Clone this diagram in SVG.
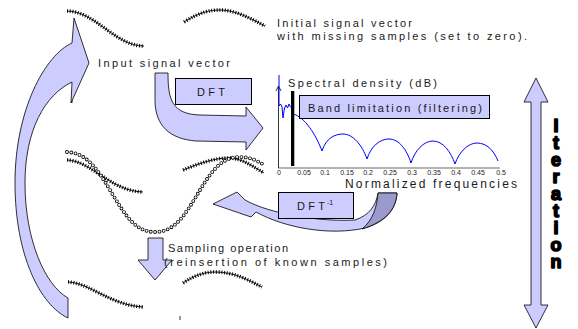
<svg xmlns="http://www.w3.org/2000/svg" width="578" height="329" viewBox="0 0 578 329">
  <defs>
    <style>
      .shape { fill: #ccccff; stroke: #000; stroke-width: 0.8; stroke-linejoin: miter; }
      .dark { fill: #9a9acc; stroke: #000; stroke-width: 0.8; }
      .box { fill: #ccccff; stroke: #000; stroke-width: 1; }
      .lbl { font-family: "Liberation Sans", Arial, sans-serif; font-size: 11px; fill: #1a1a1a; }
      .tick { font-family: "Liberation Sans", Arial, sans-serif; font-size: 7px; fill: #1a1a1a; text-anchor: middle; }
      .iter { font-family: "Liberation Sans", Arial, sans-serif; font-size: 18px; font-weight: 700; fill: #000; stroke: #000; stroke-width: 1.6; stroke-linejoin: round; text-anchor: middle; }
      .xline { fill: none; stroke: #000; stroke-width: 0.9; }
      .xmark { fill: none; stroke: #000; stroke-width: 3.6; stroke-dasharray: 1 1.7; }
      .ring { fill: none; stroke: #000; stroke-width: 3.8; stroke-linecap: round; stroke-dasharray: 0 4.3; }
      .hole { fill: none; stroke: #fff; stroke-width: 2.2; stroke-linecap: round; stroke-dasharray: 0 4.3; }
    </style>
    <path id="s1a" d="M67,11 C95,11 115,46 144,46"/>
    <path id="s1b" d="M184,22 C200,12 210,10 220,10 C235,10 250,18 265,26"/>
    <path id="s2a" d="M67,160 C92,161 110,191 143,192"/>
    <path id="s2b" d="M183,170 C200,163 215,158 228,158 C242,158 252,166 264,173"/>
    <path id="s3a" d="M68,282 C90,283 110,305 143,307"/>
    <path id="s3b" d="M183,283 C195,275 205,272 215,272 C235,272 248,280 262,287"/>
    <path id="est" d="M67,152 C85,153 95,165 110,190 C125,215 135,232 155,232 C175,232 185,215 200,190 C215,165 225,157 240,157 C250,157 258,161 264,165"/>
  </defs>

  <!-- signal with missing samples, top -->
  <g id="signal-initial">
    <use href="#s1a" class="xline"/><use href="#s1a" class="xmark"/>
    <use href="#s1b" class="xline"/><use href="#s1b" class="xmark"/>
  </g>

  <!-- band-limited estimate (circles) and known samples (crosses) -->
  <g id="signal-estimate">
    <use href="#s2a" class="xline"/><use href="#s2a" class="xmark"/>
    <use href="#s2b" class="xline"/><use href="#s2b" class="xmark"/>
    <use href="#est" class="ring"/><use href="#est" class="hole"/>
  </g>

  <!-- signal after reinsertion of samples, bottom -->
  <g id="signal-resampled">
    <use href="#s3a" class="xline"/><use href="#s3a" class="xmark"/>
    <use href="#s3b" class="xline"/><use href="#s3b" class="xmark"/>
    <line x1="72" y1="100" x2="72" y2="103" stroke="#000" stroke-width="0.8"/>
    <line x1="180" y1="316" x2="180" y2="320" stroke="#000" stroke-width="0.8"/>
  </g>

  <g id="connectors">
    <!-- feedback arrow from bottom back to input -->
    <path class="shape" d="M72,43 C45,55 15,110 15,183 C15,255 40,305 68,318 L68,298 C45,285 25,240 25,183 C25,130 45,95 72,82 L71,103 L89,63 L74,18 Z"/>
    <!-- DFT arrow -->
    <path class="shape" d="M155,73 L168,73 C168,100 172,114 200,115 L246,116 L246,107 L263,128 L246,150 L246,142 L196,141 C170,139 155,126 155,100 Z"/>
    <!-- inverse DFT arrow -->
    <path class="shape" d="M213,204 L237,192 L245,200 C270,214 320,222 355,220 C370,215 376,205 378,193 L397,193 C396,210 385,222 365,228 C330,236 285,228 256,212 L251,217 Z"/>
    <path class="dark" d="M378,193 L397,193 C396,210 385,222 362,229 C373,220 377,207 378,193 Z"/>
    <!-- sampling arrow -->
    <path class="shape" d="M148,238 L163,238 L163,260 L172,260 L155,280 L138,260 L148,260 Z"/>
    <!-- iteration double arrow -->
    <path class="shape" d="M536,78 L548,102 L541,102 L541,305 L548,305 L536,328 L524,305 L531,305 L531,102 L524,102 Z"/>
  </g>

  <g id="dft">
    <rect class="box" x="175.5" y="78.5" width="76" height="26"/>
    <text class="lbl" x="197" y="95.5" textLength="28" lengthAdjust="spacing">DFT</text>
  </g>

  <g id="idft">
    <rect class="box" x="278.5" y="192.5" width="75" height="26"/>
    <text class="lbl" x="297" y="210" textLength="28" lengthAdjust="spacing">DFT</text>
    <text class="lbl" x="327" y="205" style="font-size:7px">-1</text>
  </g>

  <g id="spectrum">
    <!-- axes -->
    <line x1="278.5" y1="86" x2="278.5" y2="168" stroke="#000" stroke-width="0.8"/>
    <line x1="278" y1="168" x2="500" y2="168" stroke="#000" stroke-width="0.6"/>
    <path d="M276,91 L278.5,86 L281,91" fill="none" stroke="#000" stroke-width="0.8"/>
    <!-- spectral density -->
    <path fill="none" stroke="#0000ff" stroke-width="1" d="M279,75 L279,106 L280.5,104 L282,107 L283,118 L284.5,108 L286,105 L287.5,108 L289,104 L290.5,107 L292,106"/>
    <path fill="none" stroke="#0000ff" stroke-width="1" d="M293,114 C305,117 316,135 322,151 C326,138 335,134 343,134 C353,134 362,145 367,159 C371,146 380,139 389,139 C399,139 407,150 411,163 C415,150 424,141 433,141 C443,141 451,152 455,164 C459,152 468,143 477,143 C487,143 494,151 498,161"/>
    <!-- cut-off frequency -->
    <rect x="291" y="91" width="3.3" height="75" fill="#000"/>
    <text class="tick" x="279" y="174.5">0</text>
    <text class="tick" x="304" y="174.5">0.05</text>
    <text class="tick" x="325" y="174.5">0.1</text>
    <text class="tick" x="347" y="174.5">0.15</text>
    <text class="tick" x="368" y="174.5">0.2</text>
    <text class="tick" x="390" y="174.5">0.25</text>
    <text class="tick" x="412" y="174.5">0.3</text>
    <text class="tick" x="434" y="174.5">0.35</text>
    <text class="tick" x="456" y="174.5">0.4</text>
    <text class="tick" x="478" y="174.5">0.45</text>
    <text class="tick" x="501" y="174.5">0.5</text>
    <text class="lbl" x="288" y="87" textLength="149" lengthAdjust="spacing">Spectral density (dB)</text>
    <text class="lbl" x="345" y="187.5" style="font-size:12px" textLength="172" lengthAdjust="spacing">Normalized frequencies</text>
  </g>

  <g id="band-limitation">
    <rect class="box" x="299.5" y="95.5" width="190" height="23"/>
    <text class="lbl" x="308" y="112" textLength="174" lengthAdjust="spacing">Band limitation (filtering)</text>
  </g>

  <g id="labels">
    <text class="lbl" x="277" y="27" textLength="135" lengthAdjust="spacing">Initial signal vector</text>
    <text class="lbl" x="277" y="40" textLength="250" lengthAdjust="spacing">with missing samples (set to zero).</text>
    <text class="lbl" x="98" y="67" textLength="132" lengthAdjust="spacing">Input signal vector</text>
    <text class="lbl" x="168" y="252" textLength="120" lengthAdjust="spacing">Sampling operation</text>
    <text class="lbl" x="164" y="266" textLength="223" lengthAdjust="spacing">(reinsertion of known samples)</text>
  </g>

  <!-- vertical stacked label, one letter per line -->
  <g id="iteration">
    <text class="iter" x="556" y="132"><tspan x="556">I</tspan><tspan x="556" dy="17">t</tspan><tspan x="556" dy="17">e</tspan><tspan x="556" dy="17">r</tspan><tspan x="556" dy="17">a</tspan><tspan x="556" dy="17">t</tspan><tspan x="556" dy="17">i</tspan><tspan x="556" dy="17">o</tspan><tspan x="556" dy="17">n</tspan></text>
  </g>
</svg>
